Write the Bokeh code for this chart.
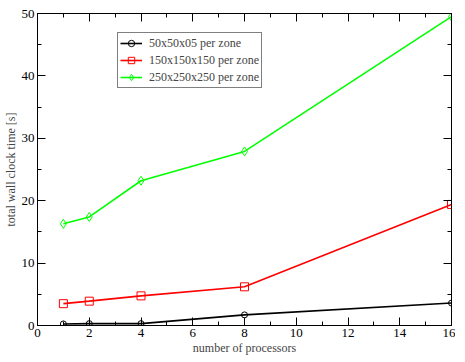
from bokeh.plotting import figure
from bokeh.models import LinearAxis, Legend, LegendItem, Range1d, FixedTicker
from bokeh.embed import file_html
from bokeh.resources import INLINE

processors = [1, 2, 4, 8, 16]
t_50 = [0.25, 0.3, 0.3, 1.7, 3.6]
t_150 = [3.5, 3.9, 4.75, 6.2, 19.4]
t_250 = [16.3, 17.4, 23.2, 27.9, 49.5]
labels = ["50x50x05 per zone", "150x150x150 per zone", "250x250x250 per zone"]
x_ticks = [0, 2, 4, 6, 8, 10, 12, 14, 16]
y_ticks = [0, 10, 20, 30, 40, 50]

FONT = "Liberation Serif"

p = figure(frame_width=414, frame_height=312, output_backend="svg",
           toolbar_location=None, x_range=Range1d(0, 16), y_range=Range1d(0, 50),
           min_border_left=4, min_border_right=4, min_border_top=13, min_border_bottom=4)
p.xgrid.visible = False
p.ygrid.visible = False
p.outline_line_color = "black"
p.background_fill_color = "white"

def style(ax, labels_on=True, ticks=None):
    ax.axis_line_color = "black"
    ax.axis_line_width = 1
    ax.major_tick_in = 8
    ax.major_tick_out = 0
    ax.minor_tick_in = 4
    ax.minor_tick_out = 0
    ax.major_tick_line_color = "black"
    ax.minor_tick_line_color = "black"
    ax.major_label_text_font = FONT
    ax.major_label_text_font_size = "13px"
    ax.major_label_text_color = "black"
    ax.axis_label_text_font = FONT
    ax.axis_label_text_font_size = "12px"
    ax.axis_label_text_font_style = "normal"
    ax.axis_label_standoff = 1
    ax.major_label_standoff = 3
    if not labels_on:
        ax.major_label_overrides = {t: "" for t in ticks}
        ax.major_label_standoff = 0

xt = FixedTicker(ticks=x_ticks, minor_ticks=list(range(0, 17)))
yt = FixedTicker(ticks=y_ticks, minor_ticks=list(range(0, 51, 5)))

p.xaxis.ticker = xt
p.yaxis.ticker = yt
p.xaxis.axis_label = "number of processors"
p.yaxis.axis_label = "total wall clock time [s]"
style(p.xaxis[0])
style(p.yaxis[0])

top = LinearAxis(ticker=xt)
right = LinearAxis(ticker=yt)
style(top, False, x_ticks)
style(right, False, y_ticks)
p.add_layout(top, "above")
p.add_layout(right, "right")

series = [
    (t_50, "black", "circle", 6),
    (t_150, "red", "square", 8),
    (t_250, "#00ff00", "diamond", 9),
]
items = []
for (ys, col, mk, sz), lab in zip(series, labels):
    l = p.line(processors, ys, line_color=col, line_width=1.6)
    s = p.scatter(processors, ys, marker=mk, size=sz, line_color=col,
                  fill_color=None, line_width=1)
    items.append(LegendItem(label=lab, renderers=[l, s]))

leg = Legend(items=items, location=(80, 237))
leg.label_text_font = FONT
leg.label_text_font_size = "12px"
leg.border_line_color = "black"
leg.border_line_width = 1
leg.padding = 2
leg.spacing = 1
leg.glyph_width = 22
leg.glyph_height = 16
leg.label_height = 16
leg.label_width = 100
leg.label_standoff = 7
leg.margin = 0
p.add_layout(leg, "center")

open("out.html", "w").write(file_html(p, INLINE))
